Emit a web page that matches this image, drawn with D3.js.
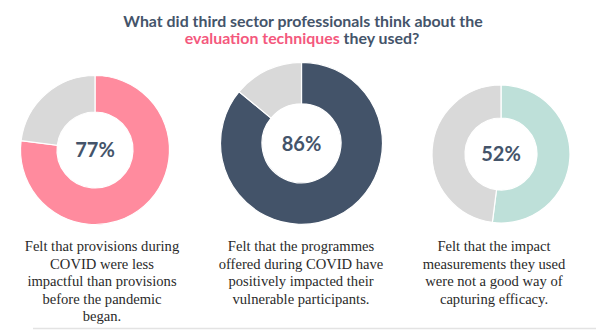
<!DOCTYPE html>
<html>
<head>
	<title> donuts </title>
	<script src="https://d3js.org/d3.v7.min.js"></script>
	<style>
		body { margin: 0; background: #fff; }
	</style>
</head>
<body>
	<svg id="chart" width="596" height="330"></svg>
	<script type="text/javascript">
		// data
		const percents = [77, 86, 52];
		const titleLine1 = "What did third sector professionals think about the";
		const titleHighlight = "evaluation techniques";
		const titleRest = " they used?";
		const captions = [
			["Felt that provisions during", "COVID were less", "impactful than provisions", "before the pandemic", "began."],
			["Felt that the programmes", "offered during COVID have", "positively impacted their", "vulnerable participants."],
			["Felt that the impact", "measurements they used", "were not a good way of", "capturing efficacy."]
		];

		const colorSet = ["#ff8b9e", "#435369", "#bee0d9"];
		const restColor = "#d9d9d9";
		const darkText = "#44546a";
		const pinkText = "#f4587d";

		// each donut has its own size in the picture
		const layout = [
			{ cx: 95, cy: 150, r: 74.5, ir: 38, tx: 102 },
			{ cx: 301.5, cy: 143.3, r: 81, ir: 39.5, tx: 301 },
			{ cx: 501, cy: 154, r: 69, ir: 36, tx: 494 }
		];

		let svg = d3.select("#chart");

		// title
		let title = svg.append("text")
			.attr("text-anchor", "middle")
			.style("font-family", "Lato, 'Open Sans', sans-serif")
			.style("font-weight", "bold")
			.style("font-size", "15.9px")
			.attr("fill", darkText);
		title.append("tspan").attr("x", 303).attr("y", 26.5).text(titleLine1);
		let t2 = title.append("tspan").attr("x", 302).attr("y", 44.3);
		t2.append("tspan").attr("fill", pinkText).text(titleHighlight);
		t2.append("tspan").text(titleRest);

		let pie = d3.pie().sort(null).value(d => d);

		percents.forEach(function(p, i) {
			let L = layout[i];
			let g = svg.append("g").attr("transform", "translate(" + L.cx + "," + L.cy + ")");
			let arc = d3.arc().innerRadius(L.ir).outerRadius(L.r);
			g.selectAll("path")
				.data(pie([p, 100 - p]))
				.join("path")
				.attr("d", arc)
				.attr("fill", (d, j) => j == 0 ? colorSet[i] : restColor)
				.attr("stroke", "#fff")
				.attr("stroke-width", 1.2);
			g.append("text")
				.attr("text-anchor", "middle")
				.attr("dy", "0.36em")
				.style("font-family", "Lato, 'Open Sans', sans-serif")
				.style("font-weight", "bold")
				.style("font-size", "20px")
				.attr("fill", darkText)
				.text(p + "%");

			// caption below
			let cap = svg.append("text")
				.attr("text-anchor", "middle")
				.style("font-family", "'Liberation Serif', 'DejaVu Serif', serif")
				.style("font-size", "14.6px")
				.attr("fill", "#2a2a2a");
			cap.selectAll("tspan")
				.data(captions[i])
				.join("tspan")
				.attr("x", L.tx)
				.attr("y", (d, k) => 251 + k * 17.5)
				.text(d => d);
		});

		// faint rule at the bottom
		svg.append("line")
			.attr("x1", 33).attr("x2", 596)
			.attr("y1", 328.5).attr("y2", 328.5)
			.attr("stroke", "#e3e3e3")
			.attr("stroke-width", 1.5);
	</script>
</body>
</html>
